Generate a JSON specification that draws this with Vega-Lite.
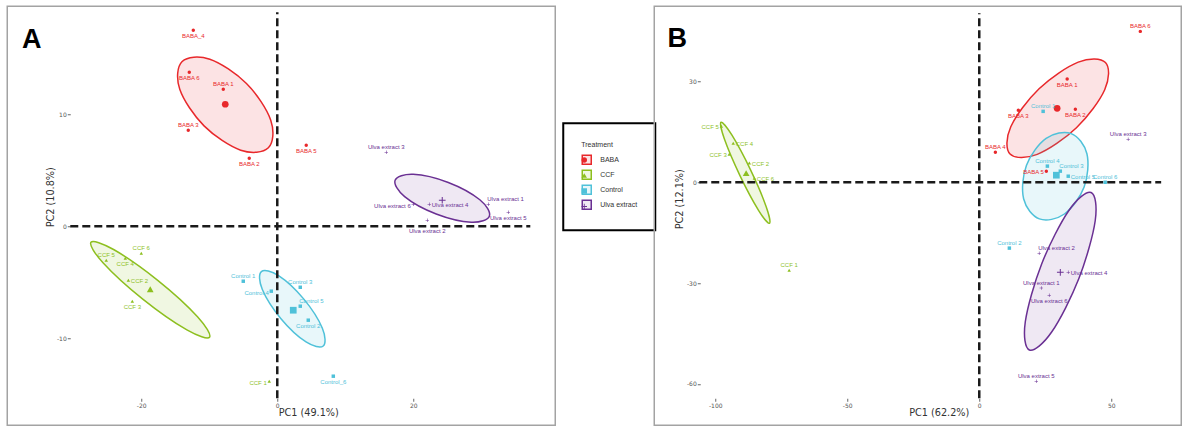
{
  "$schema": "https://vega.github.io/schema/vega-lite/v6.json",
  "padding": {"left": 6.25, "top": 5.25, "right": 0, "bottom": 0},
  "background": "white",
  "bounds": "flush",
  "spacing": 99,
  "resolve": {
    "scale": {"color": "independent", "shape": "independent", "fill": "independent", "stroke": "independent", "size": "independent"},
    "legend": {"color": "independent", "shape": "independent", "fill": "independent", "stroke": "independent"}
  },
  "hconcat": [
    {
      "width": 548,
      "height": 419,
      "layer": [
        {
          "data": {"values": [
            {"Treatment": "BABA", "i": 0, "PC1": -1.31, "PC2": 7.00},
            {"Treatment": "BABA", "i": 1, "PC1": -0.96, "PC2": 9.47},
            {"Treatment": "BABA", "i": 2, "PC1": -4.53, "PC2": 12.74},
            {"Treatment": "BABA", "i": 3, "PC1": -9.92, "PC2": 14.91},
            {"Treatment": "BABA", "i": 4, "PC1": -13.99, "PC2": 14.70},
            {"Treatment": "BABA", "i": 5, "PC1": -14.34, "PC2": 12.23},
            {"Treatment": "BABA", "i": 6, "PC1": -10.77, "PC2": 8.96},
            {"Treatment": "BABA", "i": 7, "PC1": -5.38, "PC2": 6.79},
            {"Treatment": "CCF", "i": 0, "PC1": -9.96, "PC2": -9.91},
            {"Treatment": "CCF", "i": 1, "PC1": -11.73, "PC2": -8.08},
            {"Treatment": "CCF", "i": 2, "PC1": -17.58, "PC2": -4.83},
            {"Treatment": "CCF", "i": 3, "PC1": -24.07, "PC2": -2.08},
            {"Treatment": "CCF", "i": 4, "PC1": -27.40, "PC2": -1.43},
            {"Treatment": "CCF", "i": 5, "PC1": -25.63, "PC2": -3.26},
            {"Treatment": "CCF", "i": 6, "PC1": -19.78, "PC2": -6.51},
            {"Treatment": "CCF", "i": 7, "PC1": -13.29, "PC2": -9.26},
            {"Treatment": "Control", "i": 0, "PC1": 6.76, "PC2": -10.69},
            {"Treatment": "Control", "i": 1, "PC1": 6.63, "PC2": -9.11},
            {"Treatment": "Control", "i": 2, "PC1": 3.91, "PC2": -6.51},
            {"Treatment": "Control", "i": 3, "PC1": 0.19, "PC2": -4.41},
            {"Treatment": "Control", "i": 4, "PC1": -2.34, "PC2": -4.05},
            {"Treatment": "Control", "i": 5, "PC1": -2.21, "PC2": -5.63},
            {"Treatment": "Control", "i": 6, "PC1": 0.51, "PC2": -8.23},
            {"Treatment": "Control", "i": 7, "PC1": 4.23, "PC2": -10.33},
            {"Treatment": "Ulva extract", "i": 0, "PC1": 31.19, "PC2": 0.89},
            {"Treatment": "Ulva extract", "i": 1, "PC1": 29.79, "PC2": 2.36},
            {"Treatment": "Ulva extract", "i": 2, "PC1": 25.15, "PC2": 3.91},
            {"Treatment": "Ulva extract", "i": 3, "PC1": 19.99, "PC2": 4.64},
            {"Treatment": "Ulva extract", "i": 4, "PC1": 17.33, "PC2": 4.11},
            {"Treatment": "Ulva extract", "i": 5, "PC1": 18.73, "PC2": 2.64},
            {"Treatment": "Ulva extract", "i": 6, "PC1": 23.37, "PC2": 1.09},
            {"Treatment": "Ulva extract", "i": 7, "PC1": 28.53, "PC2": 0.36}
          ]},
          "mark": {"type": "line", "interpolate": "cardinal-closed", "strokeWidth": 1.5},
          "encoding": {
            "x": {"field": "PC1", "type": "quantitative", "scale": {"domain": [-39.71, 40.88], "nice": false, "zero": false},
                  "axis": {"title": "PC1 (49.1%)", "values": [-20, 0, 20], "offset": -27, "titleX": 301, "titleY": 14.7, "titleBaseline": "middle", "titleAlign": "center"}},
            "y": {"field": "PC2", "type": "quantitative", "scale": {"domain": [-17.77, 19.64], "nice": false, "zero": false},
                  "axis": {"title": "PC2 (10.8%)", "values": [-10, 0, 10], "offset": -63, "titleX": -19.5, "titleY": 190.5, "titleAngle": 270, "titleBaseline": "middle", "titleAlign": "center"}},
            "order": {"field": "i", "type": "quantitative"},
            "stroke": {"field": "Treatment", "type": "nominal",
              "scale": {"domain": ["BABA", "CCF", "Control", "Ulva extract"], "range": ["#E8282B", "#8DBF1F", "#4FC1D9", "#6A3093"]},
              "legend": {"title": "Treatment", "orient": "none", "legendX": 556, "legendY": 117, "symbolType": "square", "symbolSize": 81, "symbolStrokeWidth": 1.5, "padding": 18, "strokeColor": "#000", "titleFontSize": 7, "titleFontWeight": "normal", "titleColor": "#333", "titleFont": "Liberation Sans", "titlePadding": 6, "labelFontSize": 7, "labelFont": "Liberation Sans", "labelColor": "#333", "labelOffset": 8, "rowPadding": 0,
                "encode": {"legend": {"update": {"strokeWidth": {"value": 2}}}}}},
            "fill": {"field": "Treatment", "type": "nominal",
              "scale": {"domain": ["BABA", "CCF", "Control", "Ulva extract"], "range": ["rgba(232,40,43,0.13)", "rgba(141,191,31,0.13)", "rgba(79,193,217,0.13)", "rgba(106,48,147,0.11)"]},
              "legend": {"title": "Treatment", "orient": "none", "legendX": 556, "legendY": 117, "symbolType": "square", "symbolSize": 81, "symbolStrokeWidth": 1.5, "padding": 18, "strokeColor": "#000", "titleFontSize": 7, "titleFontWeight": "normal", "titleColor": "#333", "titleFont": "Liberation Sans", "titlePadding": 6, "labelFontSize": 7, "labelFont": "Liberation Sans", "labelColor": "#333", "labelOffset": 8, "rowPadding": 0,
                "encode": {"legend": {"update": {"strokeWidth": {"value": 2}}}}}}
          }
        },
        {
          "data": {"values": [{}]},
          "mark": {"type": "rule", "strokeDash": [8, 4], "strokeWidth": 2.5, "color": "#1a1a1a"},
          "encoding": {
            "y": {"datum": 0, "type": "quantitative", "scale": {"domain": [-17.77, 19.64], "nice": false, "zero": false},
                  "axis": {"title": "PC2 (10.8%)", "values": [-10, 0, 10], "offset": -63, "titleX": -19.5, "titleY": 190.5, "titleAngle": 270, "titleBaseline": "middle", "titleAlign": "center"}},
            "x": {"datum": -30.44, "type": "quantitative", "scale": {"domain": [-39.71, 40.88], "nice": false, "zero": false},
                  "axis": {"title": "PC1 (49.1%)", "values": [-20, 0, 20], "offset": -27, "titleX": 301, "titleY": 14.7, "titleBaseline": "middle", "titleAlign": "center"}},
            "x2": {"datum": 37.21}
          }
        },
        {
          "data": {"values": [{}]},
          "mark": {"type": "rule", "strokeDash": [8, 4], "strokeWidth": 2.5, "color": "#1a1a1a"},
          "encoding": {
            "x": {"datum": 0, "type": "quantitative", "scale": {"domain": [-39.71, 40.88], "nice": false, "zero": false},
                  "axis": {"title": "PC1 (49.1%)", "values": [-20, 0, 20], "offset": -27, "titleX": 301, "titleY": 14.7, "titleBaseline": "middle", "titleAlign": "center"}},
            "y": {"datum": -15.36, "type": "quantitative", "scale": {"domain": [-17.77, 19.64], "nice": false, "zero": false},
                  "axis": {"title": "PC2 (10.8%)", "values": [-10, 0, 10], "offset": -63, "titleX": -19.5, "titleY": 190.5, "titleAngle": 270, "titleBaseline": "middle", "titleAlign": "center"}},
            "y2": {"datum": 19.11}
          }
        },
        {
          "data": {"name": "ptsA"},
          "mark": {"type": "point", "filled": true, "opacity": 1},
          "encoding": {
            "x": {"field": "PC1", "type": "quantitative", "scale": {"domain": [-39.71, 40.88], "nice": false, "zero": false},
                  "axis": {"title": "PC1 (49.1%)", "values": [-20, 0, 20], "offset": -27, "titleX": 301, "titleY": 14.7, "titleBaseline": "middle", "titleAlign": "center"}},
            "y": {"field": "PC2", "type": "quantitative", "scale": {"domain": [-17.77, 19.64], "nice": false, "zero": false},
                  "axis": {"title": "PC2 (10.8%)", "values": [-10, 0, 10], "offset": -63, "titleX": -19.5, "titleY": 190.5, "titleAngle": 270, "titleBaseline": "middle", "titleAlign": "center"}},
            "color": {"field": "Treatment", "type": "nominal", "scale": {"range": ["#E8282B", "#8DBF1F", "#4FC1D9", "#6A3093"]},
              "legend": {"title": " ", "orient": "none", "legendX": 556, "legendY": 119.75, "symbolSize": 30, "symbolStrokeWidth": 0, "padding": 18, "titleFontSize": 7, "titleFont": "Liberation Sans", "titlePadding": 6, "labelExpr": "''", "labelFontSize": 1, "labelOffset": 0, "rowPadding": 9.5}},
            "shape": {"field": "Treatment", "type": "nominal", "scale": {"range": ["circle", "triangle-up", "square", "M-1,-0.15H-0.15V-1H0.15V-0.15H1V0.15H0.15V1H-0.15V0.15H-1Z"]},
              "legend": {"title": " ", "orient": "none", "legendX": 556, "legendY": 119.75, "symbolSize": 30, "symbolStrokeWidth": 0, "padding": 18, "titleFontSize": 7, "titleFont": "Liberation Sans", "titlePadding": 6, "labelExpr": "''", "labelFontSize": 1, "labelOffset": 0, "rowPadding": 9.5}},
            "size": {"field": "kind", "type": "ordinal", "scale": {"domain": ["sample", "mean"], "range": [12, 45]}, "legend": null}
          }
        },
        {
          "data": {"name": "ptsA"},
          "transform": [{"filter": "indexof(['BABA 1', 'BABA 3', 'Ulva extract 3', 'CCF 6', 'CCF 5', 'Control 1', 'Control 3'], datum.Sample) >= 0"}],
          "mark": {"type": "text", "fontSize": 6, "font": "Liberation Sans", "dy": -5},
          "encoding": {
            "x": {"field": "PC1", "type": "quantitative", "scale": {"domain": [-39.71, 40.88], "nice": false, "zero": false},
                  "axis": {"title": "PC1 (49.1%)", "values": [-20, 0, 20], "offset": -27, "titleX": 301, "titleY": 14.7, "titleBaseline": "middle", "titleAlign": "center"}},
            "y": {"field": "PC2", "type": "quantitative", "scale": {"domain": [-17.77, 19.64], "nice": false, "zero": false},
                  "axis": {"title": "PC2 (10.8%)", "values": [-10, 0, 10], "offset": -63, "titleX": -19.5, "titleY": 190.5, "titleAngle": 270, "titleBaseline": "middle", "titleAlign": "center"}},
            "text": {"field": "Sample", "type": "nominal"},
            "color": {"condition": [
              {"test": "datum.Treatment === 'BABA'", "value": "#E8282B"},
              {"test": "datum.Treatment === 'CCF'", "value": "#8DBF1F"},
              {"test": "datum.Treatment === 'Control'", "value": "#4FC1D9"}
            ], "value": "#6A3093"}
          }
        },
        {
          "data": {"name": "ptsA"},
          "transform": [{"filter": "indexof(['BABA_4', 'BABA 6', 'BABA 2', 'BABA 5', 'Ulva extract 5', 'CCF 4', 'CCF 3', 'Control 2', 'Control_6'], datum.Sample) >= 0"}],
          "mark": {"type": "text", "fontSize": 6, "font": "Liberation Sans", "dy": 5.5},
          "encoding": {
            "x": {"field": "PC1", "type": "quantitative", "scale": {"domain": [-39.71, 40.88], "nice": false, "zero": false},
                  "axis": {"title": "PC1 (49.1%)", "values": [-20, 0, 20], "offset": -27, "titleX": 301, "titleY": 14.7, "titleBaseline": "middle", "titleAlign": "center"}},
            "y": {"field": "PC2", "type": "quantitative", "scale": {"domain": [-17.77, 19.64], "nice": false, "zero": false},
                  "axis": {"title": "PC2 (10.8%)", "values": [-10, 0, 10], "offset": -63, "titleX": -19.5, "titleY": 190.5, "titleAngle": 270, "titleBaseline": "middle", "titleAlign": "center"}},
            "text": {"field": "Sample", "type": "nominal"},
            "color": {"condition": [
              {"test": "datum.Treatment === 'BABA'", "value": "#E8282B"},
              {"test": "datum.Treatment === 'CCF'", "value": "#8DBF1F"},
              {"test": "datum.Treatment === 'Control'", "value": "#4FC1D9"}
            ], "value": "#6A3093"}
          }
        },
        {
          "data": {"name": "ptsA"},
          "transform": [{"filter": "datum.Sample === 'Ulva extract 2'"}],
          "mark": {"type": "text", "fontSize": 6, "font": "Liberation Sans", "dy": 10.5},
          "encoding": {
            "x": {"field": "PC1", "type": "quantitative", "scale": {"domain": [-39.71, 40.88], "nice": false, "zero": false},
                  "axis": {"title": "PC1 (49.1%)", "values": [-20, 0, 20], "offset": -27, "titleX": 301, "titleY": 14.7, "titleBaseline": "middle", "titleAlign": "center"}},
            "y": {"field": "PC2", "type": "quantitative", "scale": {"domain": [-17.77, 19.64], "nice": false, "zero": false},
                  "axis": {"title": "PC2 (10.8%)", "values": [-10, 0, 10], "offset": -63, "titleX": -19.5, "titleY": 190.5, "titleAngle": 270, "titleBaseline": "middle", "titleAlign": "center"}},
            "text": {"field": "Sample", "type": "nominal"},
            "color": {"value": "#6A3093"}
          }
        },
        {
          "data": {"name": "ptsA"},
          "transform": [{"filter": "indexof(['Ulva extract 6', 'CCF 1', 'Control 4'], datum.Sample) >= 0"}],
          "mark": {"type": "text", "fontSize": 6, "font": "Liberation Sans", "align": "right", "dx": -2.5, "dy": 1.5},
          "encoding": {
            "x": {"field": "PC1", "type": "quantitative", "scale": {"domain": [-39.71, 40.88], "nice": false, "zero": false},
                  "axis": {"title": "PC1 (49.1%)", "values": [-20, 0, 20], "offset": -27, "titleX": 301, "titleY": 14.7, "titleBaseline": "middle", "titleAlign": "center"}},
            "y": {"field": "PC2", "type": "quantitative", "scale": {"domain": [-17.77, 19.64], "nice": false, "zero": false},
                  "axis": {"title": "PC2 (10.8%)", "values": [-10, 0, 10], "offset": -63, "titleX": -19.5, "titleY": 190.5, "titleAngle": 270, "titleBaseline": "middle", "titleAlign": "center"}},
            "text": {"field": "Sample", "type": "nominal"},
            "color": {"condition": [
              {"test": "datum.Treatment === 'BABA'", "value": "#E8282B"},
              {"test": "datum.Treatment === 'CCF'", "value": "#8DBF1F"},
              {"test": "datum.Treatment === 'Control'", "value": "#4FC1D9"}
            ], "value": "#6A3093"}
          }
        },
        {
          "data": {"name": "ptsA"},
          "transform": [{"filter": "indexof(['Ulva extract 4', 'CCF 2'], datum.Sample) >= 0"}],
          "mark": {"type": "text", "fontSize": 6, "font": "Liberation Sans", "align": "left", "dx": 2.5, "dy": 0.5},
          "encoding": {
            "x": {"field": "PC1", "type": "quantitative", "scale": {"domain": [-39.71, 40.88], "nice": false, "zero": false},
                  "axis": {"title": "PC1 (49.1%)", "values": [-20, 0, 20], "offset": -27, "titleX": 301, "titleY": 14.7, "titleBaseline": "middle", "titleAlign": "center"}},
            "y": {"field": "PC2", "type": "quantitative", "scale": {"domain": [-17.77, 19.64], "nice": false, "zero": false},
                  "axis": {"title": "PC2 (10.8%)", "values": [-10, 0, 10], "offset": -63, "titleX": -19.5, "titleY": 190.5, "titleAngle": 270, "titleBaseline": "middle", "titleAlign": "center"}},
            "text": {"field": "Sample", "type": "nominal"},
            "color": {"condition": [
              {"test": "datum.Treatment === 'BABA'", "value": "#E8282B"},
              {"test": "datum.Treatment === 'CCF'", "value": "#8DBF1F"},
              {"test": "datum.Treatment === 'Control'", "value": "#4FC1D9"}
            ], "value": "#6A3093"}
          }
        },
        {
          "data": {"name": "ptsA"},
          "transform": [{"filter": "indexof(['Ulva extract 1', 'Control 5'], datum.Sample) >= 0"}],
          "mark": {"type": "text", "fontSize": 6, "font": "Liberation Sans", "align": "left", "dx": -1, "dy": -5},
          "encoding": {
            "x": {"field": "PC1", "type": "quantitative", "scale": {"domain": [-39.71, 40.88], "nice": false, "zero": false},
                  "axis": {"title": "PC1 (49.1%)", "values": [-20, 0, 20], "offset": -27, "titleX": 301, "titleY": 14.7, "titleBaseline": "middle", "titleAlign": "center"}},
            "y": {"field": "PC2", "type": "quantitative", "scale": {"domain": [-17.77, 19.64], "nice": false, "zero": false},
                  "axis": {"title": "PC2 (10.8%)", "values": [-10, 0, 10], "offset": -63, "titleX": -19.5, "titleY": 190.5, "titleAngle": 270, "titleBaseline": "middle", "titleAlign": "center"}},
            "text": {"field": "Sample", "type": "nominal"},
            "color": {"condition": [
              {"test": "datum.Treatment === 'BABA'", "value": "#E8282B"},
              {"test": "datum.Treatment === 'CCF'", "value": "#8DBF1F"},
              {"test": "datum.Treatment === 'Control'", "value": "#4FC1D9"}
            ], "value": "#6A3093"}
          }
        },
        {
          "data": {"values": [{}]},
          "mark": {"type": "text", "text": "A", "fontSize": 27, "fontWeight": "bold", "font": "Liberation Sans", "baseline": "alphabetic", "align": "center", "color": "#000"},
          "encoding": {
            "x": {"datum": -36.1, "type": "quantitative", "scale": {"domain": [-39.71, 40.88], "nice": false, "zero": false},
                  "axis": {"title": "PC1 (49.1%)", "values": [-20, 0, 20], "offset": -27, "titleX": 301, "titleY": 14.7, "titleBaseline": "middle", "titleAlign": "center"}},
            "y": {"datum": 15.89, "type": "quantitative", "scale": {"domain": [-17.77, 19.64], "nice": false, "zero": false},
                  "axis": {"title": "PC2 (10.8%)", "values": [-10, 0, 10], "offset": -63, "titleX": -19.5, "titleY": 190.5, "titleAngle": 270, "titleBaseline": "middle", "titleAlign": "center"}}
          }
        }
      ]
    },
    {
      "width": 527,
      "height": 419,
      "layer": [
        {
          "data": {"values": [
            {"Treatment": "BABA", "i": 0, "PC1": 47.80, "PC2": 35.62},
            {"Treatment": "BABA", "i": 1, "PC1": 47.52, "PC2": 27.54},
            {"Treatment": "BABA", "i": 2, "PC1": 36.81, "PC2": 16.22},
            {"Treatment": "BABA", "i": 3, "PC1": 21.96, "PC2": 8.30},
            {"Treatment": "BABA", "i": 4, "PC1": 11.66, "PC2": 8.42},
            {"Treatment": "BABA", "i": 5, "PC1": 11.94, "PC2": 16.50},
            {"Treatment": "BABA", "i": 6, "PC1": 22.65, "PC2": 27.82},
            {"Treatment": "BABA", "i": 7, "PC1": 37.50, "PC2": 35.74},
            {"Treatment": "CCF", "i": 0, "PC1": -79.47, "PC2": -12.20},
            {"Treatment": "CCF", "i": 1, "PC1": -80.71, "PC2": -7.26},
            {"Treatment": "CCF", "i": 2, "PC1": -86.59, "PC2": 3.60},
            {"Treatment": "CCF", "i": 3, "PC1": -93.67, "PC2": 14.00},
            {"Treatment": "CCF", "i": 4, "PC1": -97.81, "PC2": 17.86},
            {"Treatment": "CCF", "i": 5, "PC1": -96.57, "PC2": 12.92},
            {"Treatment": "CCF", "i": 6, "PC1": -90.69, "PC2": 2.06},
            {"Treatment": "CCF", "i": 7, "PC1": -83.61, "PC2": -8.34},
            {"Treatment": "Control", "i": 0, "PC1": 34.82, "PC2": 14.47},
            {"Treatment": "Control", "i": 1, "PC1": 40.78, "PC2": 8.49},
            {"Treatment": "Control", "i": 2, "PC1": 39.72, "PC2": -1.42},
            {"Treatment": "Control", "i": 3, "PC1": 32.26, "PC2": -9.45},
            {"Treatment": "Control", "i": 4, "PC1": 22.76, "PC2": -10.89},
            {"Treatment": "Control", "i": 5, "PC1": 16.80, "PC2": -4.91},
            {"Treatment": "Control", "i": 6, "PC1": 17.86, "PC2": 5.00},
            {"Treatment": "Control", "i": 7, "PC1": 25.32, "PC2": 13.03},
            {"Treatment": "Ulva extract", "i": 0, "PC1": 42.35, "PC2": -3.07},
            {"Treatment": "Ulva extract", "i": 1, "PC1": 43.92, "PC2": -11.46},
            {"Treatment": "Ulva extract", "i": 2, "PC1": 37.73, "PC2": -28.66},
            {"Treatment": "Ulva extract", "i": 3, "PC1": 27.42, "PC2": -44.58},
            {"Treatment": "Ulva extract", "i": 4, "PC1": 19.01, "PC2": -49.91},
            {"Treatment": "Ulva extract", "i": 5, "PC1": 17.44, "PC2": -41.52},
            {"Treatment": "Ulva extract", "i": 6, "PC1": 23.63, "PC2": -24.32},
            {"Treatment": "Ulva extract", "i": 7, "PC1": 33.94, "PC2": -8.40}
          ]},
          "mark": {"type": "line", "interpolate": "cardinal-closed", "strokeWidth": 1.5},
          "encoding": {
            "x": {"field": "PC1", "type": "quantitative", "scale": {"domain": [-123.11, 76.51], "nice": false, "zero": false},
                  "axis": {"title": "PC1 (62.2%)", "values": [-100, -50, 0, 50], "offset": -27, "titleX": 284.5, "titleY": 14.7, "titleBaseline": "middle", "titleAlign": "center"}},
            "y": {"field": "PC2", "type": "quantitative", "scale": {"domain": [-72.32, 52.38], "nice": false, "zero": false},
                  "axis": {"title": "PC2 (12.1%)", "values": [-60, -30, 0, 30], "offset": -46, "titleX": -20.5, "titleY": 192.5, "titleAngle": 270, "titleBaseline": "middle", "titleAlign": "center"}},
            "order": {"field": "i", "type": "quantitative"},
            "stroke": {"field": "Treatment", "type": "nominal",
              "scale": {"domain": ["BABA", "CCF", "Control", "Ulva extract"], "range": ["#E8282B", "#8DBF1F", "#4FC1D9", "#6A3093"]}, "legend": null},
            "fill": {"field": "Treatment", "type": "nominal",
              "scale": {"domain": ["BABA", "CCF", "Control", "Ulva extract"], "range": ["rgba(232,40,43,0.13)", "rgba(141,191,31,0.13)", "rgba(79,193,217,0.13)", "rgba(106,48,147,0.11)"]}, "legend": null}
          }
        },
        {
          "data": {"values": [{}]},
          "mark": {"type": "rule", "strokeDash": [8, 4], "strokeWidth": 2.5, "color": "#1a1a1a"},
          "encoding": {
            "y": {"datum": 0, "type": "quantitative", "scale": {"domain": [-72.32, 52.38], "nice": false, "zero": false},
                  "axis": {"title": "PC2 (12.1%)", "values": [-60, -30, 0, 30], "offset": -46, "titleX": -20.5, "titleY": 192.5, "titleAngle": 270, "titleBaseline": "middle", "titleAlign": "center"}},
            "x": {"datum": -106.06, "type": "quantitative", "scale": {"domain": [-123.11, 76.51], "nice": false, "zero": false},
                  "axis": {"title": "PC1 (62.2%)", "values": [-100, -50, 0, 50], "offset": -27, "titleX": 284.5, "titleY": 14.7, "titleBaseline": "middle", "titleAlign": "center"}},
            "x2": {"datum": 68.9}
          }
        },
        {
          "data": {"values": [{}]},
          "mark": {"type": "rule", "strokeDash": [8, 4], "strokeWidth": 2.5, "color": "#1a1a1a"},
          "encoding": {
            "x": {"datum": 0, "type": "quantitative", "scale": {"domain": [-123.11, 76.51], "nice": false, "zero": false},
                  "axis": {"title": "PC1 (62.2%)", "values": [-100, -50, 0, 50], "offset": -27, "titleX": 284.5, "titleY": 14.7, "titleBaseline": "middle", "titleAlign": "center"}},
            "y": {"datum": -64.29, "type": "quantitative", "scale": {"domain": [-72.32, 52.38], "nice": false, "zero": false},
                  "axis": {"title": "PC2 (12.1%)", "values": [-60, -30, 0, 30], "offset": -46, "titleX": -20.5, "titleY": 192.5, "titleAngle": 270, "titleBaseline": "middle", "titleAlign": "center"}},
            "y2": {"datum": 50.3}
          }
        },
        {
          "data": {"name": "ptsB"},
          "mark": {"type": "point", "filled": true, "opacity": 1},
          "encoding": {
            "x": {"field": "PC1", "type": "quantitative", "scale": {"domain": [-123.11, 76.51], "nice": false, "zero": false},
                  "axis": {"title": "PC1 (62.2%)", "values": [-100, -50, 0, 50], "offset": -27, "titleX": 284.5, "titleY": 14.7, "titleBaseline": "middle", "titleAlign": "center"}},
            "y": {"field": "PC2", "type": "quantitative", "scale": {"domain": [-72.32, 52.38], "nice": false, "zero": false},
                  "axis": {"title": "PC2 (12.1%)", "values": [-60, -30, 0, 30], "offset": -46, "titleX": -20.5, "titleY": 192.5, "titleAngle": 270, "titleBaseline": "middle", "titleAlign": "center"}},
            "color": {"field": "Treatment", "type": "nominal", "scale": {"range": ["#E8282B", "#8DBF1F", "#4FC1D9", "#6A3093"]}, "legend": null},
            "shape": {"field": "Treatment", "type": "nominal", "scale": {"range": ["circle", "triangle-up", "square", "M-1,-0.15H-0.15V-1H0.15V-0.15H1V0.15H0.15V1H-0.15V0.15H-1Z"]}, "legend": null},
            "size": {"field": "kind", "type": "ordinal", "scale": {"domain": ["sample", "mean"], "range": [12, 45]}, "legend": null}
          }
        },
        {
          "data": {"name": "ptsB"},
          "transform": [{"filter": "indexof(['BABA 6', 'BABA 4', 'Control 1', 'Control 4', 'Control 6', 'Control 2', 'CCF 1', 'Ulva extract 3', 'Ulva extract 1', 'Ulva extract 5'], datum.Sample) >= 0"}],
          "mark": {"type": "text", "fontSize": 6, "font": "Liberation Sans", "dy": -5},
          "encoding": {
            "x": {"field": "PC1", "type": "quantitative", "scale": {"domain": [-123.11, 76.51], "nice": false, "zero": false},
                  "axis": {"title": "PC1 (62.2%)", "values": [-100, -50, 0, 50], "offset": -27, "titleX": 284.5, "titleY": 14.7, "titleBaseline": "middle", "titleAlign": "center"}},
            "y": {"field": "PC2", "type": "quantitative", "scale": {"domain": [-72.32, 52.38], "nice": false, "zero": false},
                  "axis": {"title": "PC2 (12.1%)", "values": [-60, -30, 0, 30], "offset": -46, "titleX": -20.5, "titleY": 192.5, "titleAngle": 270, "titleBaseline": "middle", "titleAlign": "center"}},
            "text": {"field": "Sample", "type": "nominal"},
            "color": {"condition": [
              {"test": "datum.Treatment === 'BABA'", "value": "#E8282B"},
              {"test": "datum.Treatment === 'CCF'", "value": "#8DBF1F"},
              {"test": "datum.Treatment === 'Control'", "value": "#4FC1D9"}
            ], "value": "#6A3093"}
          }
        },
        {
          "data": {"name": "ptsB"},
          "transform": [{"filter": "indexof(['BABA 1', 'BABA 3', 'BABA 2', 'Ulva extract 6'], datum.Sample) >= 0"}],
          "mark": {"type": "text", "fontSize": 6, "font": "Liberation Sans", "dy": 5.5},
          "encoding": {
            "x": {"field": "PC1", "type": "quantitative", "scale": {"domain": [-123.11, 76.51], "nice": false, "zero": false},
                  "axis": {"title": "PC1 (62.2%)", "values": [-100, -50, 0, 50], "offset": -27, "titleX": 284.5, "titleY": 14.7, "titleBaseline": "middle", "titleAlign": "center"}},
            "y": {"field": "PC2", "type": "quantitative", "scale": {"domain": [-72.32, 52.38], "nice": false, "zero": false},
                  "axis": {"title": "PC2 (12.1%)", "values": [-60, -30, 0, 30], "offset": -46, "titleX": -20.5, "titleY": 192.5, "titleAngle": 270, "titleBaseline": "middle", "titleAlign": "center"}},
            "text": {"field": "Sample", "type": "nominal"},
            "color": {"condition": [
              {"test": "datum.Treatment === 'BABA'", "value": "#E8282B"},
              {"test": "datum.Treatment === 'CCF'", "value": "#8DBF1F"},
              {"test": "datum.Treatment === 'Control'", "value": "#4FC1D9"}
            ], "value": "#6A3093"}
          }
        },
        {
          "data": {"name": "ptsB"},
          "transform": [{"filter": "indexof(['BABA 5', 'CCF 5', 'CCF 3'], datum.Sample) >= 0"}],
          "mark": {"type": "text", "fontSize": 6, "font": "Liberation Sans", "align": "right", "dx": -2.5, "dy": 0.5},
          "encoding": {
            "x": {"field": "PC1", "type": "quantitative", "scale": {"domain": [-123.11, 76.51], "nice": false, "zero": false},
                  "axis": {"title": "PC1 (62.2%)", "values": [-100, -50, 0, 50], "offset": -27, "titleX": 284.5, "titleY": 14.7, "titleBaseline": "middle", "titleAlign": "center"}},
            "y": {"field": "PC2", "type": "quantitative", "scale": {"domain": [-72.32, 52.38], "nice": false, "zero": false},
                  "axis": {"title": "PC2 (12.1%)", "values": [-60, -30, 0, 30], "offset": -46, "titleX": -20.5, "titleY": 192.5, "titleAngle": 270, "titleBaseline": "middle", "titleAlign": "center"}},
            "text": {"field": "Sample", "type": "nominal"},
            "color": {"condition": [
              {"test": "datum.Treatment === 'BABA'", "value": "#E8282B"},
              {"test": "datum.Treatment === 'CCF'", "value": "#8DBF1F"},
              {"test": "datum.Treatment === 'Control'", "value": "#4FC1D9"}
            ], "value": "#6A3093"}
          }
        },
        {
          "data": {"name": "ptsB"},
          "transform": [{"filter": "indexof(['Control 5', 'CCF 4', 'CCF 2', 'CCF 6', 'Ulva extract 4'], datum.Sample) >= 0"}],
          "mark": {"type": "text", "fontSize": 6, "font": "Liberation Sans", "align": "left", "dx": 2.5, "dy": 0.5},
          "encoding": {
            "x": {"field": "PC1", "type": "quantitative", "scale": {"domain": [-123.11, 76.51], "nice": false, "zero": false},
                  "axis": {"title": "PC1 (62.2%)", "values": [-100, -50, 0, 50], "offset": -27, "titleX": 284.5, "titleY": 14.7, "titleBaseline": "middle", "titleAlign": "center"}},
            "y": {"field": "PC2", "type": "quantitative", "scale": {"domain": [-72.32, 52.38], "nice": false, "zero": false},
                  "axis": {"title": "PC2 (12.1%)", "values": [-60, -30, 0, 30], "offset": -46, "titleX": -20.5, "titleY": 192.5, "titleAngle": 270, "titleBaseline": "middle", "titleAlign": "center"}},
            "text": {"field": "Sample", "type": "nominal"},
            "color": {"condition": [
              {"test": "datum.Treatment === 'BABA'", "value": "#E8282B"},
              {"test": "datum.Treatment === 'CCF'", "value": "#8DBF1F"},
              {"test": "datum.Treatment === 'Control'", "value": "#4FC1D9"}
            ], "value": "#6A3093"}
          }
        },
        {
          "data": {"name": "ptsB"},
          "transform": [{"filter": "indexof(['Control 3', 'Ulva extract 2'], datum.Sample) >= 0"}],
          "mark": {"type": "text", "fontSize": 6, "font": "Liberation Sans", "align": "left", "dx": -1, "dy": -5},
          "encoding": {
            "x": {"field": "PC1", "type": "quantitative", "scale": {"domain": [-123.11, 76.51], "nice": false, "zero": false},
                  "axis": {"title": "PC1 (62.2%)", "values": [-100, -50, 0, 50], "offset": -27, "titleX": 284.5, "titleY": 14.7, "titleBaseline": "middle", "titleAlign": "center"}},
            "y": {"field": "PC2", "type": "quantitative", "scale": {"domain": [-72.32, 52.38], "nice": false, "zero": false},
                  "axis": {"title": "PC2 (12.1%)", "values": [-60, -30, 0, 30], "offset": -46, "titleX": -20.5, "titleY": 192.5, "titleAngle": 270, "titleBaseline": "middle", "titleAlign": "center"}},
            "text": {"field": "Sample", "type": "nominal"},
            "color": {"condition": [
              {"test": "datum.Treatment === 'BABA'", "value": "#E8282B"},
              {"test": "datum.Treatment === 'CCF'", "value": "#8DBF1F"},
              {"test": "datum.Treatment === 'Control'", "value": "#4FC1D9"}
            ], "value": "#6A3093"}
          }
        },
        {
          "data": {"values": [{}]},
          "mark": {"type": "text", "text": "B", "fontSize": 27, "fontWeight": "bold", "font": "Liberation Sans", "baseline": "alphabetic", "align": "center", "color": "#000"},
          "encoding": {
            "x": {"datum": -114.4, "type": "quantitative", "scale": {"domain": [-123.11, 76.51], "nice": false, "zero": false},
                  "axis": {"title": "PC1 (62.2%)", "values": [-100, -50, 0, 50], "offset": -27, "titleX": 284.5, "titleY": 14.7, "titleBaseline": "middle", "titleAlign": "center"}},
            "y": {"datum": 40.18, "type": "quantitative", "scale": {"domain": [-72.32, 52.38], "nice": false, "zero": false},
                  "axis": {"title": "PC2 (12.1%)", "values": [-60, -30, 0, 30], "offset": -46, "titleX": -20.5, "titleY": 192.5, "titleAngle": 270, "titleBaseline": "middle", "titleAlign": "center"}}
          }
        }
      ]
    }
  ],
  "datasets": {
    "ptsA": [
      {"Treatment": "BABA", "Sample": "BABA_4", "PC1": -12.35, "PC2": 17.5, "kind": "sample"},
      {"Treatment": "BABA", "Sample": "BABA 6", "PC1": -12.94, "PC2": 13.75, "kind": "sample"},
      {"Treatment": "BABA", "Sample": "BABA 1", "PC1": -7.94, "PC2": 12.23, "kind": "sample"},
      {"Treatment": "BABA", "Sample": "BABA 3", "PC1": -13.09, "PC2": 8.57, "kind": "sample"},
      {"Treatment": "BABA", "Sample": "BABA 2", "PC1": -4.12, "PC2": 6.07, "kind": "sample"},
      {"Treatment": "BABA", "Sample": "BABA 5", "PC1": 4.26, "PC2": 7.23, "kind": "sample"},
      {"Treatment": "BABA", "Sample": "", "PC1": -7.65, "PC2": 10.89, "kind": "mean"},
      {"Treatment": "CCF", "Sample": "CCF 6", "PC1": -20.0, "PC2": -2.41, "kind": "sample"},
      {"Treatment": "CCF", "Sample": "CCF 5", "PC1": -25.15, "PC2": -3.04, "kind": "sample"},
      {"Treatment": "CCF", "Sample": "CCF 4", "PC1": -22.35, "PC2": -2.86, "kind": "sample"},
      {"Treatment": "CCF", "Sample": "CCF 2", "PC1": -21.9, "PC2": -4.82, "kind": "sample"},
      {"Treatment": "CCF", "Sample": "CCF 3", "PC1": -21.32, "PC2": -6.7, "kind": "sample"},
      {"Treatment": "CCF", "Sample": "CCF 1", "PC1": -1.18, "PC2": -13.84, "kind": "sample"},
      {"Treatment": "CCF", "Sample": "", "PC1": -18.68, "PC2": -5.63, "kind": "mean"},
      {"Treatment": "Control", "Sample": "Control 1", "PC1": -5.0, "PC2": -4.91, "kind": "sample"},
      {"Treatment": "Control", "Sample": "Control 4", "PC1": -0.88, "PC2": -5.8, "kind": "sample"},
      {"Treatment": "Control", "Sample": "Control 3", "PC1": 3.38, "PC2": -5.45, "kind": "sample"},
      {"Treatment": "Control", "Sample": "Control 5", "PC1": 3.38, "PC2": -7.14, "kind": "sample"},
      {"Treatment": "Control", "Sample": "Control 2", "PC1": 4.56, "PC2": -8.39, "kind": "sample"},
      {"Treatment": "Control", "Sample": "Control_6", "PC1": 8.24, "PC2": -13.39, "kind": "sample"},
      {"Treatment": "Control", "Sample": "", "PC1": 2.35, "PC2": -7.5, "kind": "mean"},
      {"Treatment": "Ulva extract", "Sample": "Ulva extract 3", "PC1": 16.03, "PC2": 6.61, "kind": "sample"},
      {"Treatment": "Ulva extract", "Sample": "Ulva extract 1", "PC1": 31.03, "PC2": 1.96, "kind": "sample"},
      {"Treatment": "Ulva extract", "Sample": "Ulva extract 5", "PC1": 33.97, "PC2": 1.25, "kind": "sample"},
      {"Treatment": "Ulva extract", "Sample": "Ulva extract 6", "PC1": 20.0, "PC2": 1.96, "kind": "sample"},
      {"Treatment": "Ulva extract", "Sample": "Ulva extract 4", "PC1": 22.35, "PC2": 1.96, "kind": "sample"},
      {"Treatment": "Ulva extract", "Sample": "Ulva extract 2", "PC1": 22.06, "PC2": 0.54, "kind": "sample"},
      {"Treatment": "Ulva extract", "Sample": "", "PC1": 24.26, "PC2": 2.32, "kind": "mean"}
    ],
    "ptsB": [
      {"Treatment": "BABA", "Sample": "BABA 6", "PC1": 61.0, "PC2": 44.9, "kind": "sample"},
      {"Treatment": "BABA", "Sample": "BABA 1", "PC1": 33.3, "PC2": 30.7, "kind": "sample"},
      {"Treatment": "BABA", "Sample": "BABA 3", "PC1": 14.8, "PC2": 21.4, "kind": "sample"},
      {"Treatment": "BABA", "Sample": "BABA 2", "PC1": 36.4, "PC2": 21.7, "kind": "sample"},
      {"Treatment": "BABA", "Sample": "BABA 4", "PC1": 6.1, "PC2": 8.9, "kind": "sample"},
      {"Treatment": "BABA", "Sample": "BABA 5", "PC1": 25.4, "PC2": 3.3, "kind": "sample"},
      {"Treatment": "BABA", "Sample": "", "PC1": 29.5, "PC2": 22.0, "kind": "mean"},
      {"Treatment": "CCF", "Sample": "CCF 5", "PC1": -97.7, "PC2": 16.7, "kind": "sample"},
      {"Treatment": "CCF", "Sample": "CCF 4", "PC1": -93.2, "PC2": 11.6, "kind": "sample"},
      {"Treatment": "CCF", "Sample": "CCF 3", "PC1": -94.7, "PC2": 8.3, "kind": "sample"},
      {"Treatment": "CCF", "Sample": "CCF 2", "PC1": -87.1, "PC2": 5.7, "kind": "sample"},
      {"Treatment": "CCF", "Sample": "CCF 6", "PC1": -85.2, "PC2": 1.2, "kind": "sample"},
      {"Treatment": "CCF", "Sample": "CCF 1", "PC1": -72.0, "PC2": -26.2, "kind": "sample"},
      {"Treatment": "CCF", "Sample": "", "PC1": -88.3, "PC2": 2.7, "kind": "mean"},
      {"Treatment": "Control", "Sample": "Control 1", "PC1": 24.2, "PC2": 21.1, "kind": "sample"},
      {"Treatment": "Control", "Sample": "Control 4", "PC1": 25.8, "PC2": 4.8, "kind": "sample"},
      {"Treatment": "Control", "Sample": "Control 3", "PC1": 30.7, "PC2": 3.3, "kind": "sample"},
      {"Treatment": "Control", "Sample": "Control 5", "PC1": 33.7, "PC2": 1.8, "kind": "sample"},
      {"Treatment": "Control", "Sample": "Control 6", "PC1": 47.7, "PC2": 0.0, "kind": "sample"},
      {"Treatment": "Control", "Sample": "Control 2", "PC1": 11.4, "PC2": -19.6, "kind": "sample"},
      {"Treatment": "Control", "Sample": "", "PC1": 29.2, "PC2": 2.1, "kind": "mean"},
      {"Treatment": "Ulva extract", "Sample": "Ulva extract 3", "PC1": 56.4, "PC2": 12.8, "kind": "sample"},
      {"Treatment": "Ulva extract", "Sample": "Ulva extract 2", "PC1": 22.7, "PC2": -21.1, "kind": "sample"},
      {"Treatment": "Ulva extract", "Sample": "Ulva extract 4", "PC1": 33.7, "PC2": -26.8, "kind": "sample"},
      {"Treatment": "Ulva extract", "Sample": "Ulva extract 1", "PC1": 23.5, "PC2": -31.5, "kind": "sample"},
      {"Treatment": "Ulva extract", "Sample": "Ulva extract 6", "PC1": 26.5, "PC2": -33.6, "kind": "sample"},
      {"Treatment": "Ulva extract", "Sample": "Ulva extract 5", "PC1": 21.6, "PC2": -59.2, "kind": "sample"},
      {"Treatment": "Ulva extract", "Sample": "", "PC1": 30.7, "PC2": -26.8, "kind": "mean"}
    ]
  },
  "config": {
    "locale": {"number": {"decimal": ".", "thousands": ",", "grouping": [3], "currency": ["$", ""], "minus": "-"}},
    "view": {"stroke": "#a3a3a3", "strokeWidth": 1.5},
    "axis": {"domain": false, "grid": false, "ticks": true, "tickSize": 3, "tickColor": "#666", "labelFontSize": 6, "labelColor": "#555", "labelPadding": 1, "labelFont": "DejaVu Sans", "titleFont": "DejaVu Sans", "titleFontSize": 9.7, "titleFontWeight": "normal", "titleColor": "#333"}
  }
}
